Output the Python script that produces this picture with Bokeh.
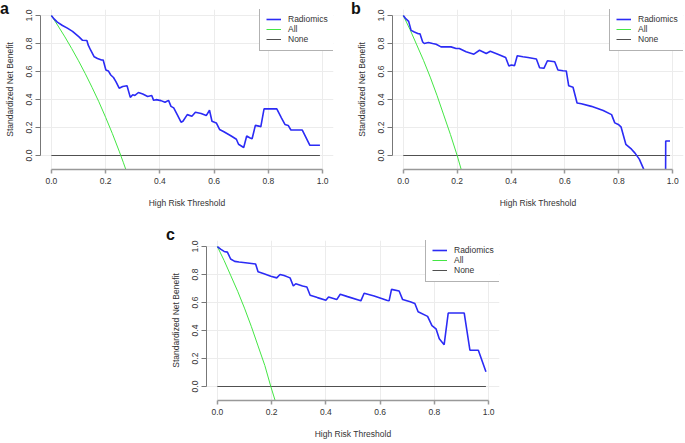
from bokeh.plotting import figure
from bokeh.models import Range1d, FixedTicker, Legend, LegendItem, Spacer, PrintfTickFormatter, Div
from bokeh.layouts import column, row
from bokeh.embed import file_html
from bokeh.resources import INLINE

# ---------------- data ----------------
tick_values = [0.0, 0.2, 0.4, 0.6, 0.8, 1.0]
x_label = "High Risk Threshold"
y_label = "Standardized Net Benefit"
series_names = ["Radiomics", "All", "None"]
panel_letters = ["a", "b", "c"]

a_rad_x = [0.0, 0.01, 0.022, 0.041, 0.059, 0.078, 0.102, 0.115, 0.131, 0.136, 0.145, 0.158, 0.17, 0.185,
           0.191, 0.201, 0.21, 0.219, 0.229, 0.238, 0.25, 0.263, 0.279, 0.291, 0.30, 0.308, 0.321, 0.337,
           0.355, 0.37, 0.377, 0.386, 0.404, 0.419, 0.432, 0.441, 0.451, 0.464, 0.478, 0.485, 0.501, 0.518,
           0.531, 0.552, 0.571, 0.583, 0.592, 0.608, 0.62, 0.636, 0.663, 0.682, 0.69, 0.709, 0.72, 0.731,
           0.74, 0.752, 0.765, 0.772, 0.784, 0.799, 0.831, 0.848, 0.861, 0.873, 0.883, 0.898, 0.925, 0.953,
           0.978, 0.99]
a_rad_y = [1.0, 0.976, 0.953, 0.929, 0.91, 0.887, 0.847, 0.823, 0.821, 0.788, 0.752, 0.705, 0.693, 0.682,
           0.682, 0.611, 0.604, 0.575, 0.557, 0.528, 0.481, 0.493, 0.498, 0.415, 0.434, 0.429, 0.45, 0.439,
           0.422, 0.429, 0.394, 0.399, 0.392, 0.38, 0.394, 0.351, 0.34, 0.292, 0.238, 0.245, 0.292, 0.281,
           0.309, 0.30, 0.285, 0.323, 0.245, 0.233, 0.186, 0.17, 0.139, 0.116, 0.08, 0.057, 0.139, 0.127,
           0.12, 0.215, 0.21, 0.205, 0.333, 0.333, 0.333, 0.269, 0.222, 0.215, 0.182, 0.182, 0.182, 0.073,
           0.073, 0.073]
a_all_x = [0.0, 0.025, 0.05, 0.075, 0.1, 0.125, 0.15, 0.175, 0.2, 0.225, 0.25, 0.265, 0.28]
a_all_y = [1.0, 0.925, 0.847, 0.764, 0.677, 0.585, 0.487, 0.384, 0.273, 0.156, 0.031, -0.048, -0.13]

b_rad_x = [0.0, 0.01, 0.02, 0.029, 0.041, 0.056, 0.062, 0.072, 0.078, 0.093, 0.109, 0.122, 0.14, 0.177,
           0.196, 0.208, 0.233, 0.262, 0.283, 0.308, 0.323, 0.351, 0.38, 0.392, 0.401, 0.413, 0.423, 0.444,
           0.463, 0.494, 0.506, 0.522, 0.535, 0.562, 0.574, 0.593, 0.605, 0.614, 0.63, 0.645, 0.661, 0.698,
           0.742, 0.773, 0.785, 0.798, 0.808, 0.826, 0.847, 0.86, 0.876, 0.891, 0.92, 0.973, 0.974, 0.99]
b_rad_y = [1.0, 0.976, 0.958, 0.894, 0.882, 0.87, 0.87, 0.811, 0.80, 0.807, 0.80, 0.795, 0.776, 0.776,
           0.764, 0.764, 0.741, 0.724, 0.752, 0.729, 0.745, 0.724, 0.70, 0.639, 0.646, 0.642, 0.712, 0.705,
           0.70, 0.689, 0.627, 0.623, 0.677, 0.67, 0.611, 0.606, 0.604, 0.498, 0.488, 0.375, 0.37, 0.351,
           0.321, 0.292, 0.233, 0.222, 0.205, 0.08, 0.045, 0.017, -0.026, -0.092, -0.25, -0.4, 0.104, 0.104]
b_all_x = [0.0, 0.025, 0.05, 0.075, 0.1, 0.125, 0.15, 0.175, 0.2, 0.215]
b_all_y = [1.0, 0.90, 0.79, 0.68, 0.56, 0.43, 0.29, 0.15, 0.0, -0.10]

c_rad_x = [0.0, 0.012, 0.025, 0.037, 0.049, 0.064, 0.08, 0.111, 0.141, 0.15, 0.172, 0.197, 0.219, 0.231,
           0.246, 0.268, 0.28, 0.289, 0.314, 0.33, 0.342, 0.369, 0.40, 0.41, 0.44, 0.453, 0.48, 0.529,
           0.541, 0.578, 0.627, 0.633, 0.642, 0.67, 0.683, 0.711, 0.728, 0.74, 0.775, 0.791, 0.806, 0.818,
           0.836, 0.851, 0.91, 0.931, 0.962, 0.99]
c_rad_y = [1.0, 0.981, 0.965, 0.96, 0.911, 0.894, 0.889, 0.882, 0.875, 0.819, 0.805, 0.788, 0.776, 0.80,
           0.793, 0.776, 0.718, 0.734, 0.718, 0.711, 0.652, 0.635, 0.616, 0.64, 0.621, 0.659, 0.642, 0.612,
           0.666, 0.647, 0.614, 0.612, 0.694, 0.682, 0.621, 0.605, 0.593, 0.534, 0.501, 0.435, 0.412, 0.341,
           0.299, 0.525, 0.525, 0.259, 0.259, 0.106]
c_all_x = [0.0, 0.025, 0.05, 0.075, 0.1, 0.125, 0.15, 0.175, 0.197, 0.213]
c_all_y = [1.0, 0.90, 0.79, 0.68, 0.56, 0.43, 0.29, 0.15, 0.0, -0.10]

none_x = [0.0, 0.99]
none_y = [0.0, 0.0]

# ---------------- styling ----------------
FONT = "Liberation Sans"
TXT = "#333333"
BLUE = "#2b2bf5"
GREEN = "#44e644"
GREY = "#505050"
X0, X1 = -0.04, 1.04
Y0, Y1 = -0.1, 1.043
FH = 160
LEG_W = 74
LEG_H = 42


def make_panel(rx, ry, ax, ay, fw, left, right, top):
    p = figure(frame_width=fw, frame_height=FH, output_backend="svg", toolbar_location=None,
               x_range=Range1d(X0, X1), y_range=Range1d(Y0, Y1),
               min_border_left=left, min_border_right=right, min_border_top=top,
               min_border_bottom=42)
    p.outline_line_color = None
    p.background_fill_color = "white"
    p.border_fill_color = None

    for ax_ in (p.xaxis[0], p.yaxis[0]):
        ax_.ticker = FixedTicker(ticks=tick_values)
        ax_.formatter = PrintfTickFormatter(format="%.1f")
        ax_.bounds = (0, 1)
        ax_.minor_tick_line_color = None
        ax_.major_tick_in = 0
        ax_.major_label_text_font = FONT
        ax_.major_label_text_font_size = "8.5px"
        ax_.major_label_text_color = TXT
        ax_.axis_label_text_font = FONT
        ax_.axis_label_text_font_size = "8.5px"
        ax_.axis_label_text_font_style = "normal"
        ax_.axis_label_text_color = TXT

    xa = p.xaxis[0]
    xa.axis_label = x_label
    xa.axis_line_color = "#999999"
    xa.axis_line_width = 1.5
    xa.major_tick_line_color = "#999999"
    xa.major_tick_line_width = 1.5
    xa.major_tick_out = 4
    xa.major_label_standoff = 4
    xa.axis_label_standoff = 11

    ya = p.yaxis[0]
    ya.axis_label = y_label
    ya.axis_line_color = "#777777"
    ya.major_tick_line_color = "#777777"
    ya.major_tick_out = 5
    ya.major_label_standoff = 3
    ya.major_label_orientation = "vertical"
    ya.axis_label_standoff = 9

    for g in (p.xgrid[0], p.ygrid[0]):
        g.ticker = FixedTicker(ticks=tick_values)
        g.grid_line_color = "#ececec"
        g.grid_line_width = 1

    r_none = p.line(none_x, none_y, line_color=GREY, line_width=1)
    r_all = p.line(ax, ay, line_color=GREEN, line_width=1)
    r_rad = p.line(rx, ry, line_color=BLUE, line_width=1.6)

    legend = Legend(items=[LegendItem(label=series_names[0], renderers=[r_rad]),
                           LegendItem(label=series_names[1], renderers=[r_all]),
                           LegendItem(label=series_names[2], renderers=[r_none])],
                    location=(fw - LEG_W, FH - LEG_H), margin=0, padding=6, spacing=0,
                    label_height=10, glyph_height=10, glyph_width=15, label_standoff=7,
                    label_width=40,
                    label_text_font=FONT, label_text_font_size="8.5px", label_text_color=TXT,
                    border_line_color="#666666", border_line_width=1,
                    background_fill_color="white", background_fill_alpha=1.0)
    p.add_layout(legend, "center")
    return p


def letter(ch, top):
    html = ("<div style=\"font-family:'Liberation Sans',Arial,sans-serif;font-weight:bold;"
            f"font-size:16px;line-height:16px;color:#111111;margin-top:{top}px;"
            f"white-space:nowrap;width:1px;overflow:visible\">{ch}</div>")
    return Div(text=html, width=1, height=1, margin=0, sizing_mode="fixed",
               styles={"overflow": "visible", "z-index": "5", "width": "1px", "min-width": "1px",
                       "max-width": "1px", "height": "1px", "padding": "0", "margin": "0"})


pa = make_panel(a_rad_x, a_rad_y, a_all_x, a_all_y, 293, 38, 18, 9)
pb = make_panel(b_rad_x, b_rad_y, b_all_x, b_all_y, 291, 40, 1, 9)
pc = make_panel(c_rad_x, c_rad_y, c_all_x, c_all_y, 293, 39, 10, 29)

layout = column(
    row(letter(panel_letters[0], 1), pa, letter(panel_letters[1], 1), pb),
    row(Spacer(width=166, height=10), letter(panel_letters[2], 16), pc),
)

open("out.html", "w").write(file_html(layout, INLINE))
